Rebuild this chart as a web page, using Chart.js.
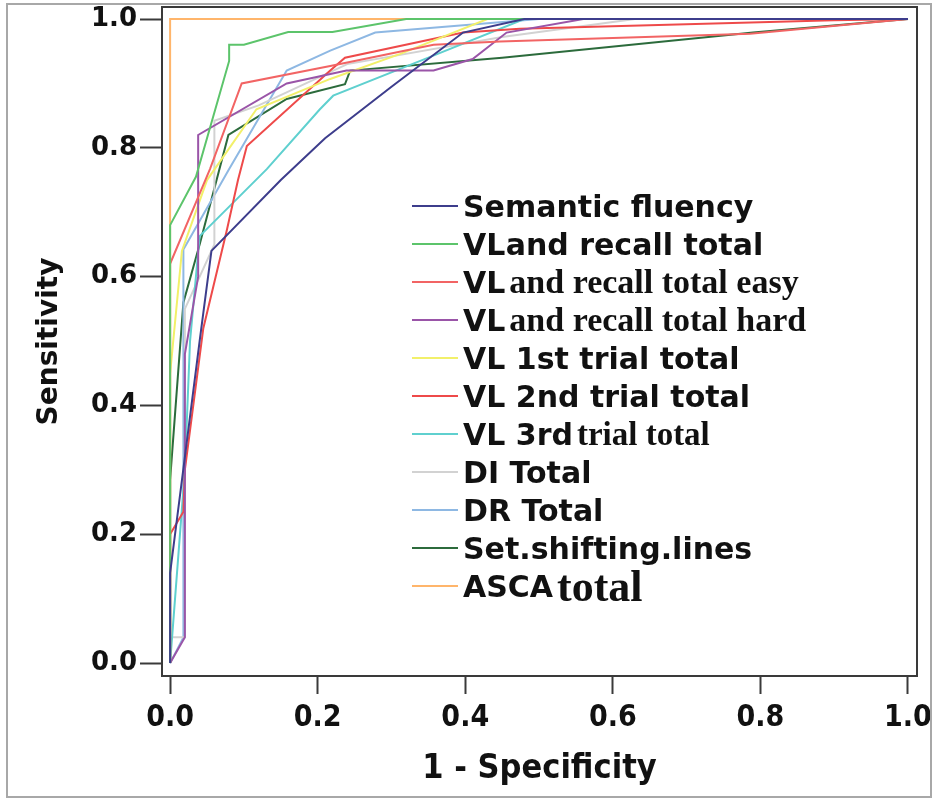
<!DOCTYPE html>
<html>
<head>
<meta charset="utf-8">
<title>ROC curves</title>
<script src="https://cdn.jsdelivr.net/npm/chart.js@4.4.0/dist/chart.umd.min.js"></script>
<style>
  body { margin: 0; background: #fff; }
  #wrap { position: relative; width: 934px; height: 799px; }
  #frame { position: absolute; left: 6px; top: 3px; width: 922px; height: 791px; border: 2px solid #a8a8a8; pointer-events: none; }
  #legend { position: absolute; left: 412px; top: 187px; }
  .row { display: flex; align-items: center; height: 38px; white-space: nowrap; color: #111; }
  .swatch { width: 46px; height: 2px; margin-right: 5px; flex: none; }
  .sans { font: bold 30px 'DejaVu Sans', sans-serif; }
  .serif { font: bold 34px 'Liberation Serif', serif; margin-left: 4px; }
  .tight { font-size: 1px; }
</style>
</head>
<body>
<div id="wrap">
  <canvas id="rocChart" width="934" height="799"></canvas>
  <div id="legend"></div>
  <div id="frame"></div>
</div>
<script>
// ejes
const xTicks = [0, 0.2, 0.4, 0.6, 0.8, 1.0];
const yTicks = [0, 0.2, 0.4, 0.6, 0.8, 1.0];

const seriesNames = [
  "Semantic fluency",
  "VL and recall total",
  "VL and recall total easy",
  "VL and recall total hard",
  "VL 1st trial total",
  "VL 2nd trial total",
  "VL 3rd trial total",
  "DI Total",
  "DR Total",
  "Set.shifting.lines",
  "ASCA total"
];
// parte del texto de la leyenda que sale en letra serif
const legendSerif = [null, null, "and recall total easy", "and recall total hard", null, null,
  "trial total", null, null, null, "total"];

const seriesColors = ["#3d3d8c", "#5cc46b", "#f26464", "#9a55a8", "#f2f06a", "#ee4a4a",
  "#5fd0cf", "#d2d2d2", "#8eb8e3", "#2c6b3c", "#ffb56b"];

// curvas ROC: 1 - especificidad (x) y sensibilidad (y)
const semanticX = [0, 0, 0.04, 0.056, 0.15, 0.21, 0.3, 0.397, 0.48, 1];
const semanticY = [0, 0.14, 0.5, 0.64, 0.75, 0.815, 0.895, 0.979, 1, 1];

const recallTotalX = [0, 0, 0.035, 0.08, 0.08, 0.1, 0.16, 0.22, 0.32, 1];
const recallTotalY = [0, 0.68, 0.755, 0.935, 0.96, 0.96, 0.98, 0.98, 1, 1];

const recallEasyX = [0, 0, 0.054, 0.097, 0.217, 0.357, 0.447, 0.786, 1];
const recallEasyY = [0, 0.62, 0.767, 0.9, 0.927, 0.96, 0.965, 0.977, 1];

const recallHardX = [0, 0.02, 0.02, 0.038, 0.038, 0.158, 0.239, 0.357, 0.41, 0.456, 0.56, 1];
const recallHardY = [0, 0.04, 0.48, 0.6, 0.82, 0.9, 0.92, 0.92, 0.938, 0.979, 1, 1];

const trial1X = [0, 0, 0.016, 0.05, 0.117, 0.217, 0.312, 0.43, 1];
const trial1Y = [0, 0.45, 0.64, 0.75, 0.86, 0.907, 0.946, 1, 1];

const trial2X = [0, 0, 0.018, 0.02, 0.045, 0.077, 0.092, 0.104, 0.217, 0.237, 0.397, 0.474, 0.9, 1];
const trial2Y = [0, 0.2, 0.235, 0.3, 0.52, 0.673, 0.75, 0.803, 0.92, 0.94, 0.979, 0.985, 0.998, 1];

const trial3X = [0, 0.02, 0.027, 0.04, 0.131, 0.203, 0.221, 0.35, 0.48, 1];
const trial3Y = [0, 0.3, 0.5, 0.663, 0.767, 0.86, 0.881, 0.94, 1, 1];

const diTotalX = [0, 0, 0.02, 0.02, 0.06, 0.06, 0.12, 0.24, 0.45, 0.63, 1];
const diTotalY = [0, 0.04, 0.04, 0.55, 0.65, 0.842, 0.866, 0.93, 0.972, 1, 1];

const drTotalX = [0, 0.018, 0.018, 0.08, 0.158, 0.217, 0.278, 0.5, 1];
const drTotalY = [0, 0.04, 0.642, 0.767, 0.92, 0.951, 0.979, 1, 1];

const setShiftX = [0, 0, 0.018, 0.04, 0.079, 0.158, 0.237, 0.244, 0.45, 0.79, 1];
const setShiftY = [0, 0.285, 0.56, 0.65, 0.82, 0.876, 0.899, 0.92, 0.94, 0.979, 1];

const ascaX = [0, 0, 1];
const ascaY = [0, 1, 1];

const seriesX = [semanticX, recallTotalX, recallEasyX, recallHardX, trial1X, trial2X, trial3X, diTotalX, drTotalX, setShiftX, ascaX];
const seriesY = [semanticY, recallTotalY, recallEasyY, recallHardY, trial1Y, trial2Y, trial3Y, diTotalY, drTotalY, setShiftY, ascaY];

const datasets = seriesNames.map((name, i) => ({
  label: name,
  data: seriesX[i].map((x, j) => ({ x: x, y: seriesY[i][j] })),
  borderColor: seriesColors[i],
  backgroundColor: seriesColors[i],
  borderWidth: 2,
  pointRadius: 0,
  showLine: true,
  tension: 0,
  fill: false
}));

// marco del área de trazado
const plotBox = {
  id: 'plotBox',
  afterDraw(chart) {
    const { ctx, chartArea: a } = chart;
    ctx.save();
    ctx.strokeStyle = '#3a3a3a';
    ctx.lineWidth = 2;
    ctx.strokeRect(a.left, a.top, a.right - a.left, a.bottom - a.top);
    ctx.restore();
  }
};

const sansBold = "'DejaVu Sans', sans-serif";
const narrowBold = "'DejaVu Sans Condensed', 'Liberation Sans Narrow', 'DejaVu Sans', sans-serif";

new Chart(document.getElementById('rocChart').getContext('2d'), {
  type: 'scatter',
  data: { datasets: datasets },
  options: {
    responsive: false,
    animation: false,
    layout: { padding: { top: 7, right: 17, left: 0, bottom: 0 } },
    plugins: { legend: { display: false }, tooltip: { enabled: false } },
    scales: {
      x: {
        type: 'linear',
        min: -0.011,
        max: 1.0122,
        afterBuildTicks: s => { s.ticks = xTicks.map(v => ({ value: v })); },
        afterFit: s => { s.height = 123; s.paddingLeft = 0; s.paddingRight = 0; },
        ticks: {
          callback: v => v.toFixed(1),
          color: '#111',
          font: { family: narrowBold, size: 30, weight: 'bold' },
          padding: 6,
          maxRotation: 0,
          autoSkip: false
        },
        grid: { drawOnChartArea: false, drawTicks: true, tickLength: 18, color: '#3a3a3a', tickWidth: 2 },
        border: { display: true, color: '#3a3a3a', width: 2 },
        title: {
          display: true,
          text: '1 - Specificity',
          color: '#111',
          font: { family: narrowBold, size: 34, weight: 'bold' },
          padding: { top: 0, bottom: 9 }
        }
      },
      y: {
        type: 'linear',
        min: -0.02,
        max: 1.0187,
        afterBuildTicks: s => { s.ticks = yTicks.map(v => ({ value: v })); },
        afterFit: s => { s.width = 162; s.paddingTop = 0; s.paddingBottom = 0; },
        ticks: {
          callback: v => v.toFixed(1),
          color: '#111',
          font: { family: sansBold, size: 26, weight: 'bold' },
          padding: 3,
          autoSkip: false
        },
        grid: { drawOnChartArea: false, drawTicks: true, tickLength: 22, color: '#3a3a3a', tickWidth: 2 },
        border: { display: true, color: '#3a3a3a', width: 2 },
        title: {
          display: true,
          text: 'Sensitivity',
          color: '#111',
          font: { family: sansBold, size: 28, weight: 'bold' },
          padding: { top: 33, bottom: 0 }
        }
      }
    }
  },
  plugins: [plotBox]
});

// leyenda con la mezcla de letras del original
const legendBox = document.getElementById('legend');
seriesNames.forEach((name, i) => {
  const row = document.createElement('div');
  row.className = 'row';
  const swatch = document.createElement('div');
  swatch.className = 'swatch';
  swatch.style.background = seriesColors[i];
  row.appendChild(swatch);

  const tail = legendSerif[i];
  if (i === 1) {
    // "VLand recall total": sin hueco visible tras VL
    const a = document.createElement('span');
    a.className = 'sans';
    a.innerHTML = 'VL<span class="tight"> </span>and recall total';
    row.appendChild(a);
  } else {
    const head = tail ? name.slice(0, name.length - tail.length).trim() : name;
    const s1 = document.createElement('span');
    s1.className = 'sans';
    s1.textContent = head;
    row.appendChild(s1);
  }
  if (tail) {
    const s2 = document.createElement('span');
    s2.className = 'serif';
    s2.textContent = ' ' + tail;
    if (i === 10) s2.style.fontSize = '44px';
    if (i === 6) s2.style.fontSize = '33px';
    row.appendChild(s2);
  }
  legendBox.appendChild(row);
});
</script>
</body>
</html>
